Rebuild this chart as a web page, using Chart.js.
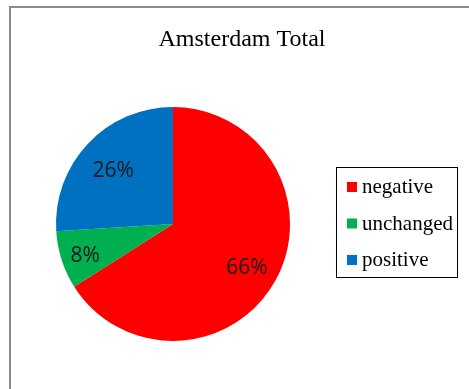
<!DOCTYPE html>
<html><head><meta charset="utf-8">
<script src="https://cdn.jsdelivr.net/npm/chart.js@4/dist/chart.umd.min.js"></script>
<style>html,body{margin:0;padding:0;background:#fff;overflow:hidden}#wrap{width:469px;height:389px;position:relative}</style>
</head><body><div id="wrap"><canvas id="c" width="469" height="389"></canvas></div>
<script>
const chartTitle = "Amsterdam Total";
const categories = ["negative", "unchanged", "positive"];
const values = [66, 8, 26];
const colors = ["#FF0000", "#00B050", "#0070C0"];
const labelRadius = [0.72, 0.79, 0.70];

const deco = {
  id: 'deco',
  beforeDraw(chart) {
    const ctx = chart.ctx;
    ctx.save();
    ctx.fillStyle = '#fff';
    ctx.fillRect(0, 0, chart.width, chart.height);
    ctx.strokeStyle = '#8a8a8a';
    ctx.lineWidth = 2;
    ctx.beginPath();
    ctx.moveTo(10, chart.height);
    ctx.lineTo(10, 7);
    ctx.lineTo(chart.width, 7);
    ctx.stroke();
    ctx.restore();
  },
  afterDraw(chart) {
    const ctx = chart.ctx;
    ctx.save();
    // title
    ctx.fillStyle = '#000';
    ctx.font = '24px "Liberation Serif", "Times New Roman", serif';
    ctx.textAlign = 'center';
    ctx.textBaseline = 'alphabetic';
    ctx.fillText(chartTitle, 242, 46);
    // data labels
    const meta = chart.getDatasetMeta(0);
    const total = values.reduce((a, b) => a + b, 0);
    ctx.font = '21px "Open Sans", "Liberation Sans", sans-serif';
    ctx.fillStyle = '#1a1a1a';
    ctx.textBaseline = 'middle';
    meta.data.forEach((arc, i) => {
      const p = arc.getProps(['x', 'y', 'startAngle', 'endAngle', 'outerRadius'], true);
      const mid = (p.startAngle + p.endAngle) / 2;
      const r = p.outerRadius * labelRadius[i];
      const pct = Math.round(values[i] / total * 100) + '%';
      ctx.fillText(pct, p.x + Math.cos(mid) * r, p.y + Math.sin(mid) * r + 3);
    });
    // legend
    ctx.strokeStyle = '#000';
    ctx.lineWidth = 1;
    ctx.strokeRect(336.5, 167.5, 121, 110);
    ctx.font = '21px "Liberation Serif", "Times New Roman", serif';
    ctx.textAlign = 'left';
    ctx.textBaseline = 'alphabetic';
    categories.forEach((c, i) => {
      const y = 193 + i * 36.5;
      ctx.fillStyle = colors[i];
      ctx.fillRect(347, y - 11, 10, 10);
      ctx.fillStyle = '#000';
      ctx.fillText(c, 362, y);
    });
    ctx.restore();
  }
};

new Chart(document.getElementById('c'), {
  type: 'pie',
  data: {
    labels: categories,
    datasets: [{ data: values, backgroundColor: colors, borderWidth: 0 }]
  },
  options: {
    responsive: false,
    animation: false,
    layout: { padding: { left: 56, right: 179, top: 107, bottom: 48 } },
    plugins: { legend: { display: false }, tooltip: { enabled: false }, title: { display: false } }
  },
  plugins: [deco]
});
</script></body></html>
